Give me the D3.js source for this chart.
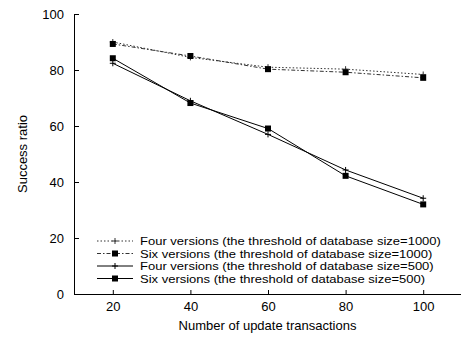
<!DOCTYPE html>
<html>
<head>
<meta charset="utf-8">
<script src="https://cdn.jsdelivr.net/npm/d3@7"></script>
<style>
  body { margin: 0; background: #fff; }
  text { font-family: "Liberation Sans", Arial, sans-serif; font-size: 13px; fill: #000; }
</style>
</head>
<body>
<script>
const width = 461, height = 341;
let margin = { top: 14, right: 0, bottom: 47, left: 74 };

// data
const transactions = [20, 40, 60, 80, 100];
const fourVersions1000 = [90, 84.5, 81, 80.3, 78.4];
const sixVersions1000 = [89.3, 85, 80.3, 79.2, 77.2];
const fourVersions500 = [82.4, 69, 57, 44.3, 34.2];
const sixVersions500 = [84.2, 68.2, 59.1, 42.2, 32];
const seriesNames = [
  "Four versions (the threshold of database size=1000)",
  "Six versions (the threshold of database size=1000)",
  "Four versions (the threshold of database size=500)",
  "Six versions (the threshold of database size=500)"
];
const xTicks = [20, 40, 60, 80, 100];
const yTicks = [0, 20, 40, 60, 80, 100];

const series = [
  { name: seriesNames[0], values: fourVersions1000, dash: "1.5,2", marker: "plus", color: "#333" },
  { name: seriesNames[1], values: sixVersions1000, dash: "4,2,1.5,2", marker: "square", color: "#333" },
  { name: seriesNames[2], values: fourVersions500, dash: null, marker: "plus", color: "#000" },
  { name: seriesNames[3], values: sixVersions500, dash: null, marker: "square", color: "#000" }
];

var svg = d3.select("body").append("svg")
  .attr("width", width)
  .attr("height", height);

var x = d3.scaleLinear()
  .domain([10, 110])
  .range([margin.left, width + 1]);

var y = d3.scaleLinear()
  .domain([0, 100])
  .range([height - margin.bottom, margin.top]);

// axes, ticks pointing inward
var xAxis = svg.append("g")
  .attr("transform", "translate(0," + y(0) + ")")
  .call(d3.axisBottom(x).tickValues(xTicks).tickSizeInner(-4).tickSizeOuter(0).tickPadding(8));

var yAxis = svg.append("g")
  .attr("transform", "translate(" + x(10) + ",0)")
  .call(d3.axisLeft(y).tickValues(yTicks).tickSizeInner(-5).tickSizeOuter(0).tickPadding(10));

[xAxis, yAxis].forEach(function(g) {
  g.select(".domain").attr("stroke", "#000").attr("stroke-width", 1);
  g.selectAll(".tick line").attr("stroke", "#000");
  g.selectAll(".tick text")
    .style("font-family", "Liberation Sans, Arial, sans-serif")
    .style("font-size", "13px")
    .attr("fill", "#000");
});

// axis titles
svg.append("text")
  .attr("x", (x(10) + width) / 2)
  .attr("y", 330)
  .style("text-anchor", "middle")
  .text("Number of update transactions");

svg.append("text")
  .attr("transform", "translate(27," + y(50) + ") rotate(-90)")
  .style("text-anchor", "middle")
  .text("Success ratio");

var line = d3.line()
  .x(function(d, i) { return x(transactions[i]); })
  .y(function(d) { return y(d); });

function drawMarker(g, type, cx, cy, color) {
  if (type === "square") {
    g.append("rect")
      .attr("x", cx - 3).attr("y", cy - 3)
      .attr("width", 6).attr("height", 6)
      .attr("fill", "#000");
  } else {
    g.append("path")
      .attr("d", "M" + (cx - 3) + "," + cy + "H" + (cx + 3) + "M" + cx + "," + (cy - 3) + "V" + (cy + 3))
      .attr("stroke", color)
      .attr("stroke-width", 1);
  }
}

series.forEach(function(s) {
  var g = svg.append("g");
  g.append("path")
    .datum(s.values)
    .attr("d", line)
    .attr("fill", "none")
    .attr("stroke", s.color)
    .attr("stroke-width", 1)
    .attr("stroke-dasharray", s.dash);
  s.values.forEach(function(v, i) {
    drawMarker(g, s.marker, x(transactions[i]), y(v), s.color);
  });
});

// legend - smaller glyph height, stretched wide like the original
var legend = svg.append("g");
series.forEach(function(s, i) {
  var ly = 241 + i * 12.5;
  legend.append("line")
    .attr("x1", 97).attr("x2", 133)
    .attr("y1", ly).attr("y2", ly)
    .attr("stroke", s.color)
    .attr("stroke-width", 1)
    .attr("stroke-dasharray", s.dash);
  drawMarker(legend, s.marker, 115, ly, s.color);
  var t = legend.append("text")
    .attr("x", 140)
    .attr("y", ly + 4)
    .style("font-size", "10.8px")
    .text(s.name);
  var len = t.node().getComputedTextLength();
  t.attr("textLength", len * 13 / 10.8)
    .attr("lengthAdjust", "spacingAndGlyphs");
});
</script>
</body>
</html>
